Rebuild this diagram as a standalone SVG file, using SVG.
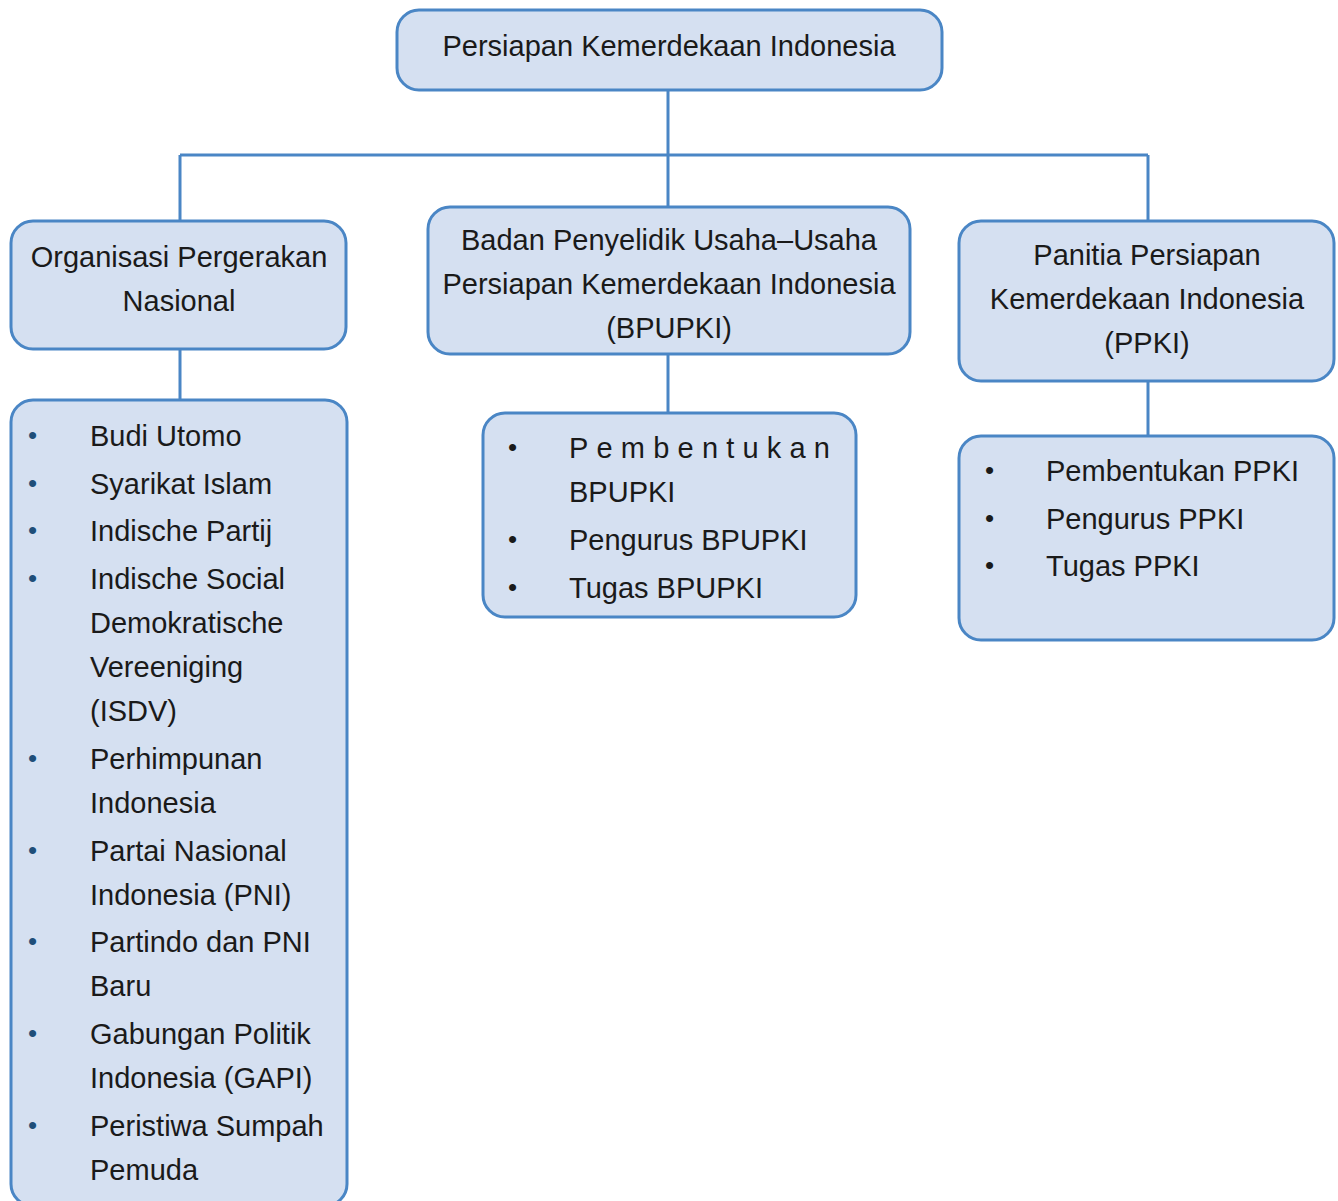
<svg xmlns="http://www.w3.org/2000/svg" width="1338" height="1201" viewBox="0 0 1338 1201">
<style>
.box{fill:#d5e0f1;stroke:#4a86c5;stroke-width:3}
.t{font-family:"Liberation Sans",Arial,sans-serif;font-size:29px;fill:#1a1a1a}
.c{text-anchor:middle}
.b{font-family:"Liberation Sans",Arial,sans-serif;font-size:26px;fill:#1a1a1a}
.bb{fill:#1f4e79}
.conn{stroke:#4a86c5;stroke-width:3;fill:none}
</style>
<rect width="1338" height="1201" fill="#ffffff"/>
<g id="connectors">
<path class="conn" d="M668 90V155M180 155H1148M180 155V221M668 155V207M1148 155V221M180 349V400M668 354V413M1148 381V436"/>
</g>
<g id="root">
<rect class="box" x="397" y="10" width="545" height="80" rx="22"/>
<text class="t c" x="669" y="56">Persiapan Kemerdekaan Indonesia</text>
</g>
<g id="org">
<rect class="box" x="11" y="221" width="335" height="128" rx="22"/>
<text class="t c" x="179" y="267">Organisasi Pergerakan</text>
<text class="t c" x="179" y="311">Nasional</text>
</g>
<g id="org-list">
<rect class="box" x="11" y="400" width="336" height="806" rx="22"/>
<g class="b bb">
<text x="28" y="444">•</text>
<text x="28" y="492">•</text>
<text x="28" y="539">•</text>
<text x="28" y="587">•</text>
<text x="28" y="767">•</text>
<text x="28" y="859">•</text>
<text x="28" y="950">•</text>
<text x="28" y="1042">•</text>
<text x="28" y="1134">•</text>
</g>
<g class="t">
<text x="90" y="446">Budi Utomo</text>
<text x="90" y="494">Syarikat Islam</text>
<text x="90" y="541">Indische Partij</text>
<text x="90" y="589">Indische Social</text>
<text x="90" y="633">Demokratische</text>
<text x="90" y="677">Vereeniging</text>
<text x="90" y="721">(ISDV)</text>
<text x="90" y="769">Perhimpunan</text>
<text x="90" y="813">Indonesia</text>
<text x="90" y="861">Partai Nasional</text>
<text x="90" y="905">Indonesia (PNI)</text>
<text x="90" y="952">Partindo dan PNI</text>
<text x="90" y="996">Baru</text>
<text x="90" y="1044">Gabungan Politik</text>
<text x="90" y="1088">Indonesia (GAPI)</text>
<text x="90" y="1136">Peristiwa Sumpah</text>
<text x="90" y="1180">Pemuda</text>
</g>
</g>
<g id="bpupki">
<rect class="box" x="428" y="207" width="482" height="147" rx="22"/>
<text class="t c" x="669" y="250">Badan Penyelidik Usaha–Usaha</text>
<text class="t c" x="669" y="294">Persiapan Kemerdekaan Indonesia</text>
<text class="t c" x="669" y="338">(BPUPKI)</text>
</g>
<g id="bpupki-list">
<rect class="box" x="483" y="413" width="373" height="204" rx="22"/>
<g class="b">
<text x="508" y="456">•</text>
<text x="508" y="548">•</text>
<text x="508" y="596">•</text>
</g>
<g class="t">
<text x="569" y="458" letter-spacing="8.2">Pembentukan</text>
<text x="569" y="502">BPUPKI</text>
<text x="569" y="550">Pengurus BPUPKI</text>
<text x="569" y="598">Tugas BPUPKI</text>
</g>
</g>
<g id="ppki">
<rect class="box" x="959" y="221" width="375" height="160" rx="22"/>
<text class="t c" x="1147" y="265">Panitia Persiapan</text>
<text class="t c" x="1147" y="309">Kemerdekaan Indonesia</text>
<text class="t c" x="1147" y="353">(PPKI)</text>
</g>
<g id="ppki-list">
<rect class="box" x="959" y="436" width="375" height="204" rx="22"/>
<g class="b">
<text x="985" y="479">•</text>
<text x="985" y="527">•</text>
<text x="985" y="574">•</text>
</g>
<g class="t">
<text x="1046" y="481">Pembentukan PPKI</text>
<text x="1046" y="529">Pengurus PPKI</text>
<text x="1046" y="576">Tugas PPKI</text>
</g>
</g>
</svg>
